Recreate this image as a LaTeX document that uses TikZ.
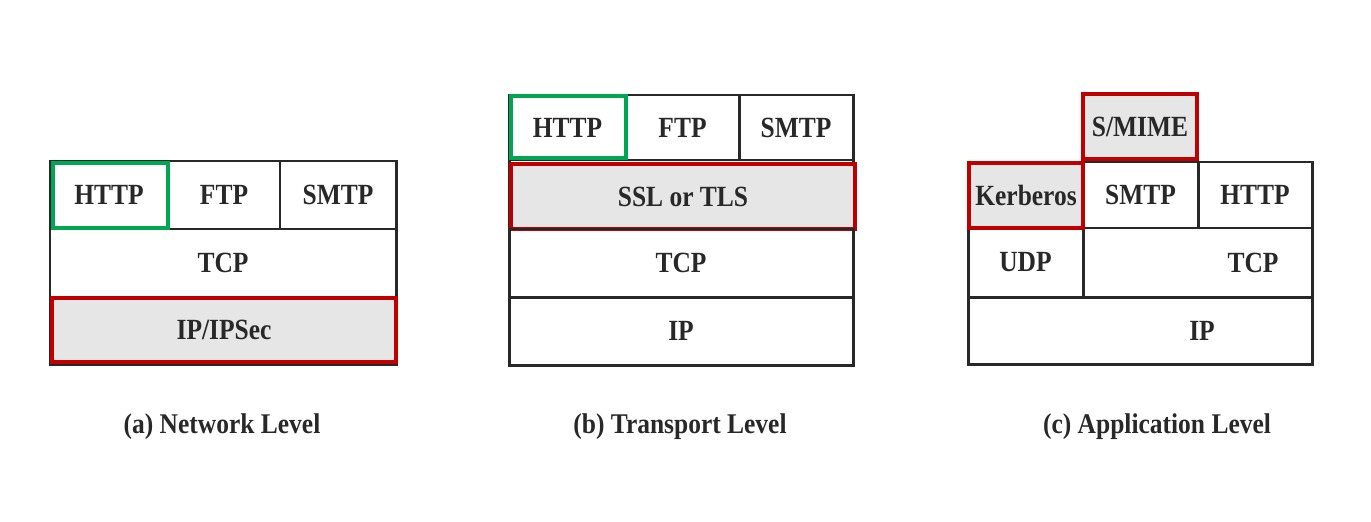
\documentclass[tikz,border=0pt]{standalone}
\usepackage{fontspec}
\setmainfont{Liberation Serif}
\definecolor{rd}{RGB}{192,0,0}
\definecolor{gn}{RGB}{0,166,81}
\definecolor{gy}{RGB}{230,230,230}
\definecolor{ink}{RGB}{40,40,40}
\newcommand{\tx}[1]{\scalebox{1}[1.15]{#1}}
\newcommand{\cell}[7][]{\node[cellbase,#1,minimum width={(#5-#3)*0.02cm},minimum height={(#6-#4)*0.02cm}] (#2) at ({(#3+#5)/2},{(#4+#6)/2}) {\tx{#7}};}
\tikzset{
  cellbase/.style={draw=ink, line width=1.7pt, rectangle, inner sep=0pt, outer sep=0pt,
    text=ink, font=\fontsize{14.5}{17}\selectfont\bfseries},
  redbox/.style={draw=rd, line width=2.8pt, fill=gy},
  greenbox/.style={draw=gn, line width=2.8pt},
  lbl/.style={text=ink, font=\fontsize{14.5}{17}\selectfont\bfseries, inner sep=0pt},
  caption/.style={text=ink, font=\fontsize{14.5}{17}\selectfont\bfseries, inner sep=0pt}
}
\begin{document}
\begin{tikzpicture}[x=0.02cm, y=-0.02cm]
\useasboundingbox (0,0) rectangle (1371,521);
% (a) Network level
\cell{aHTTP}{50}{161}{168}{229}{HTTP}
\cell{aFTP}{168}{161}{280}{229}{FTP}
\cell{aSMTP}{280}{161}{396}{229}{SMTP}
\cell{aTCP}{50}{229}{396}{297}{TCP}
\cell{aIP}{50}{297}{396}{364}{}
\cell[redbox]{aIPs}{52}{298}{396}{362}{IP/IPSec}
\cell[greenbox]{aHTTPg}{53}{163}{168}{228}{}
\node[caption] (capA) at (222,427) {\scalebox{1}[1.12]{(a) Network Level}};
% (b) Transport level
\cell{bHTTP}{509}{95}{626}{160}{HTTP}
\cell{bFTP}{626}{95}{739}{160}{FTP}
\cell{bSMTP}{739}{95}{853}{160}{SMTP}
\cell{bSSLb}{509}{160}{853}{228}{}
\cell[redbox]{bSSL}{511}{164}{855}{229}{SSL or TLS}
\cell{bTCP}{509}{229}{853}{297}{TCP}
\cell{bIP}{509}{297}{853}{365}{IP}
\cell[greenbox]{bHTTPg}{511}{96}{626}{158}{}
\node[caption] (capB) at (680,427) {\scalebox{1}[1.12]{(b) Transport Level}};
% (c) Application level
\cell{cKerb}{968}{162}{1083}{228}{}
\cell{cSMTP}{1083}{162}{1198}{228}{SMTP}
\cell{cHTTP}{1198}{162}{1312}{228}{HTTP}
\cell{cUDP}{968}{228}{1083}{297}{UDP}
\node[cellbase, minimum width={(1312-1083)*0.02cm}, minimum height={(297-228)*0.02cm},
  label={[lbl,xshift=1.11cm]center:\tx{TCP}}] (cTCP) at ({(1083+1312)/2},{(228+297)/2}) {};
\node[cellbase, minimum width={(1312-968)*0.02cm}, minimum height={(364-297)*0.02cm},
  label={[lbl,xshift=1.24cm]center:\tx{IP}}] (cIP) at ({(968+1312)/2},{(297+364)/2}) {};
\cell[redbox]{cKerbR}{969}{163}{1083}{228}{Kerberos}
\cell[redbox]{cSMIME}{1083}{94}{1197}{159}{S/MIME}
\node[caption] (capC) at (1157,427) {\scalebox{1}[1.12]{(c) Application Level}};
\end{tikzpicture}
\end{document}
